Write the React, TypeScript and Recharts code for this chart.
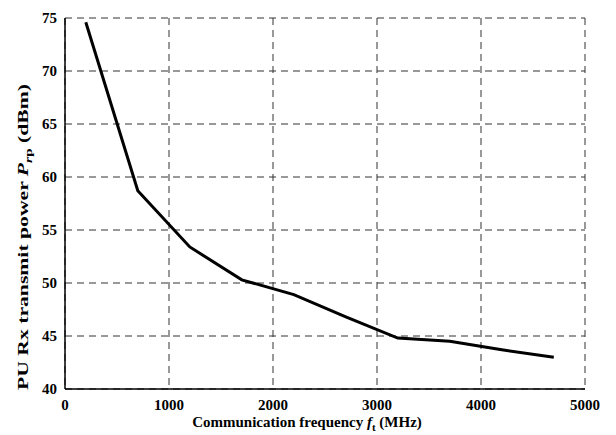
import { LineChart, Line, XAxis, YAxis, CartesianGrid } from 'recharts';

const frequencies = [200, 700, 1200, 1700, 2200, 2700, 3200, 3700, 4200, 4700];
const transmitPower = [74.6, 58.7, 53.4, 50.3, 48.9, 46.8, 44.8, 44.5, 43.7, 43.0];
const xTicks = [0, 1000, 2000, 3000, 4000, 5000];
const yTicks = [40, 45, 50, 55, 60, 65, 70, 75];

const data = frequencies.map((f, i) => ({ f, p: transmitPower[i] }));

const FONT = '"Liberation Serif", "Times New Roman", serif';

const XTick = ({ x, y, payload }: any) => (
  <text x={x} y={y + 13} textAnchor="middle" fontFamily={FONT} fontSize={15} fontWeight={700} fill="#000">
    {payload.value}
  </text>
);

const YTick = ({ x, y, payload }: any) => (
  <text x={x} y={y + 5} textAnchor="end" fontFamily={FONT} fontSize={15} fontWeight={700} fill="#000">
    {payload.value}
  </text>
);

const XLabel = ({ viewBox }: any) => {
  const cx = viewBox.x + viewBox.width / 2 - 18;
  return (
    <text x={cx} y={427} textAnchor="middle" fontFamily={FONT} fontSize={15} fontWeight={700} fill="#000">
      Communication frequency{' '}
      <tspan fontStyle="italic">f</tspan>
      <tspan fontSize={11} dy={4}>t</tspan>
      <tspan dy={-4}> (MHz)</tspan>
    </text>
  );
};

// the source figure is stretched vertically, so the rotated label runs longer
const YLabel = () => (
  <text
    x={0}
    y={0}
    transform="translate(28, 237) rotate(-90)"
    textAnchor="middle"
    fontFamily={FONT}
    fontSize={15.5}
    fontWeight={700}
    fill="#000"
    textLength={306}
    lengthAdjust="spacingAndGlyphs"
  >
    PU Rx transmit power{' '}
    <tspan fontStyle="italic">P</tspan>
    <tspan fontSize={11} dy={4}>
      <tspan fontStyle="italic">r</tspan>p
    </tspan>
    <tspan dy={-4}> (dBm)</tspan>
  </text>
);

export default function App() {
  return (
    <div style={{ position: 'absolute', left: 0, top: 0, background: '#fff' }}>
      <LineChart width={616} height={435} data={data} margin={{ top: 18, right: 31, bottom: 0, left: 0 }}>
        <CartesianGrid stroke="#333" strokeDasharray="7 5" strokeWidth={1} />
        <XAxis
          dataKey="f"
          type="number"
          domain={[0, 5000]}
          ticks={xTicks}
          height={46}
          tick={<XTick />}
          tickLine={false}
          axisLine={{ stroke: '#000', strokeWidth: 1.5 }}
          label={{ content: XLabel }}
        />
        <XAxis
          xAxisId="top"
          orientation="top"
          dataKey="f"
          type="number"
          domain={[0, 5000]}
          height={0}
          tick={false}
          tickLine={false}
          axisLine={{ stroke: '#000', strokeWidth: 1.5 }}
        />
        <YAxis
          type="number"
          domain={[40, 75]}
          ticks={yTicks}
          width={65}
          tick={<YTick />}
          tickLine={false}
          tickMargin={2}
          axisLine={{ stroke: '#000', strokeWidth: 1.5 }}
          label={{ content: YLabel }}
        />
        <YAxis
          yAxisId="right"
          orientation="right"
          type="number"
          domain={[40, 75]}
          width={0}
          tick={false}
          tickLine={false}
          axisLine={{ stroke: '#000', strokeWidth: 1.5 }}
        />
        <Line
          dataKey="p"
          stroke="#000"
          strokeWidth={3}
          dot={false}
          type="linear"
          isAnimationActive={false}
        />
      </LineChart>
    </div>
  );
}
